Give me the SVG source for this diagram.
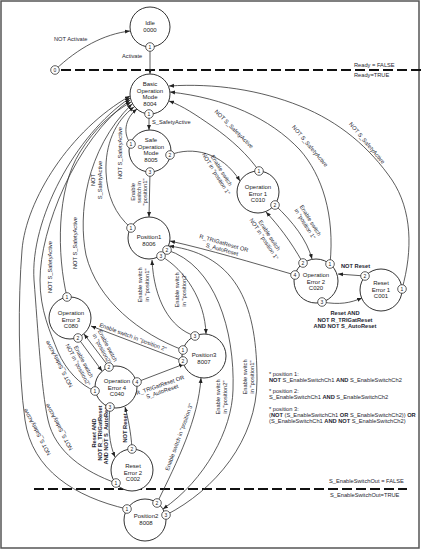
<svg xmlns="http://www.w3.org/2000/svg" width="421" height="550" viewBox="0 0 421 550">
<style>
text{font-family:"Liberation Sans",Arial,sans-serif;fill:#222}
.nt{font-size:6px;text-anchor:middle}
.lb{font-size:5.7px;text-anchor:middle;fill:#1e1e30}
.ls{font-size:5.7px;fill:#1e1e30}
.b{font-weight:bold}
.node{fill:#fff;stroke:#333;stroke-width:1}
.port{fill:#fff;stroke:#333;stroke-width:0.8}
.pt{font-size:5px;text-anchor:middle}
.c{fill:none;stroke:#333;stroke-width:0.8}
.dash{stroke:#111;stroke-width:1.8;stroke-dasharray:10,4;fill:none}
</style>
<defs>
<marker id="ah" viewBox="0 0 10 10" refX="10" refY="5" markerUnits="userSpaceOnUse" markerWidth="5" markerHeight="5" orient="auto"><path d="M0,1 L10,5 L0,9 z" fill="#222"/></marker>
</defs>
<rect x="1" y="1" width="418" height="547" fill="#fff" stroke="#555" stroke-width="1.5"/>
<line class="dash" x1="61" y1="70" x2="421" y2="70"/>
<line class="dash" x1="34" y1="489" x2="407" y2="489"/>
<g id="connectors" class="c" marker-end="url(#ah)">
<path d="M55,70 C78,48 104,34 130,31"/>
<path d="M150,47 L150,74"/>
<path d="M149,114 L149,130"/>
<path d="M131,144 C123,135 124,119 137,109"/>
<path d="M131,228 C115,214 107,196 106,172 C105,145 115,121 134,107"/>
<path d="M183,350 C140,334 97,300 86,255 C78,215 85,150 132,104"/>
<path d="M67,297 C57,255 56,190 80,152 C95,128 112,113 131,102"/>
<path d="M95,391 C80,385 66,370 58,352 C50,332 40,310 40,280 C40,230 75,140 130,100"/>
<path d="M116,483 C85,472 55,452 48,420 C41,388 38,330 34,280 C30,220 75,135 130,98"/>
<path d="M127,509 C75,497 32,470 25,420 C18,370 18,300 22,250 C26,200 70,130 130,96"/>
<path d="M170,155 C192,146 222,152 240,181"/>
<path d="M259,171 C248,155 232,140 212,126 C196,115 183,106 169,101"/>
<path d="M330,264 C335,215 322,175 300,150 C270,118 225,98 170,92"/>
<path d="M402,289 C413,250 412,210 392,180 C370,148 340,122 300,106 C260,90 215,83 169,86"/>
<path d="M150,172 L149,217"/>
<path d="M275,205 C293,222 307,240 312,259"/>
<path d="M303,263 C290,240 278,225 266,212"/>
<path d="M365,276 L338,274"/>
<path d="M322,302 C340,305 350,303 362,298"/>
<path d="M295,275 C250,262 210,250 170,241"/>
<path d="M167,250 C215,265 235,330 233,390 C232,430 205,480 163,509"/>
<path d="M161,256 C185,270 205,300 206,334"/>
<path d="M195,336 C170,328 154,300 152,260"/>
<path d="M166,515 C215,490 257,440 257,380 C257,310 240,255 169,246"/>
<path d="M183,361 L91,326"/>
<path d="M78,338 L102,371"/>
<path d="M109,367 L84,334"/>
<path d="M137,382 L184,364"/>
<path d="M110,407 C108,428 109,443 115,457"/>
<path d="M132,449 C131,432 128,418 125,407"/>
<path d="M157,503 C178,460 198,420 201,378"/>
</g>
<g id="labels">
<text class="ls" x="54" y="41">NOT Activate</text>
<text class="ls" x="122" y="58">Activate</text>
<text class="ls" x="152" y="124">S_SafetyActive</text>
<text class="ls" x="354" y="67">Ready = FALSE</text>
<text class="ls" x="354" y="77">Ready=TRUE</text>
<text class="lb" transform="translate(120,153) rotate(-90)" y="2">NOT S_SafetyActive</text>
<text class="lb" transform="translate(96,180) rotate(-90)"><tspan x="0" y="-1">NOT</tspan><tspan x="0" y="5.5">S_SafetyActive</tspan></text>
<text class="lb" transform="translate(75,243) rotate(-90)" y="2">NOT S_SafetyActive</text>
<text class="lb" transform="translate(50,267) rotate(-90)" y="2">NOT S_SafetyActive</text>
<text class="lb" transform="translate(59,364) rotate(-118)" y="2">NOT S_SafetyActive</text>
<text class="lb" transform="translate(59,427) rotate(-118)" y="2">NOT S_SafetyActive</text>
<text class="lb" transform="translate(37,432) rotate(-118)" y="2">NOT S_SafetyActive</text>
<text class="lb" transform="translate(234,129) rotate(45)" y="2">NOT S_SafetyActive</text>
<text class="lb" transform="translate(310,146) rotate(50)" y="2">NOT S_SafetyActive</text>
<text class="lb" transform="translate(367,143) rotate(50)" y="2">NOT S_SafetyActive</text>
<text class="lb" transform="translate(219,172) rotate(58)"><tspan x="0" y="-1">Enable switch</tspan><tspan x="0" y="5.5">NOT in "position 1"</tspan></text>
<text class="lb" transform="translate(308,222) rotate(58)"><tspan x="0" y="-1">Enable switch</tspan><tspan x="0" y="5.5">in "position 1"</tspan></text>
<text class="lb" transform="translate(267,237) rotate(57)"><tspan x="0" y="-1">Enable switch</tspan><tspan x="0" y="5.5">NOT in "position 1"</tspan></text>
<text class="lb" transform="translate(139,192) rotate(-90)"><tspan x="0" y="-4.5">Enable</tspan><tspan x="0" y="1.8">switch in</tspan><tspan x="0" y="8.1">"position1"</tspan></text>
<text class="lb" transform="translate(223,246) rotate(16)"><tspan x="0" y="-1">R_TRIGatReset OR</tspan><tspan x="0" y="5.5">S_AutoReset</tspan></text>
<text class="ls b" x="341" y="268">NOT Reset</text>
<text class="lb b" x="345"><tspan x="345" y="315">Reset AND</tspan><tspan x="345" y="321.5">NOT R_TRIGatReset</tspan><tspan x="345" y="328">AND NOT S_AutoReset</tspan></text>
<text class="lb" transform="translate(180,290) rotate(-90)"><tspan x="0" y="-1">Enable switch</tspan><tspan x="0" y="5.5">in "position3"</tspan></text>
<text class="lb" transform="translate(143,285) rotate(-90)"><tspan x="0" y="-1">Enable switch</tspan><tspan x="0" y="5.5">in "position1"</tspan></text>
<text class="lb" transform="translate(133,337) rotate(20.5)" y="2">Enable switch in "position 2"</text>
<text class="lb" transform="translate(81,363) rotate(62)"><tspan x="0" y="-1">Enable switch</tspan><tspan x="0" y="5.5">NOT in "position2"</tspan></text>
<text class="lb" transform="translate(105,347) rotate(62)"><tspan x="0" y="-1">Enable switch</tspan><tspan x="0" y="5.5">in "position2"</tspan></text>
<text class="lb" transform="translate(161,388) rotate(-19)"><tspan x="0" y="-1">R_TRIGatReset OR</tspan><tspan x="0" y="5.5">S_AutoReset</tspan></text>
<text class="lb b" transform="translate(100,433) rotate(-90)"><tspan x="0" y="-4.5">Reset AND</tspan><tspan x="0" y="1.8">NOT R_TRIGatReset</tspan><tspan x="0" y="8.1">AND NOT S_AutoReset</tspan></text>
<text class="lb b" transform="translate(125,428) rotate(-90)" y="2">NOT Reset</text>
<text class="lb" transform="translate(221,397) rotate(-90)"><tspan x="0" y="-1">Enable switch</tspan><tspan x="0" y="5.5">in "position2"</tspan></text>
<text class="lb" transform="translate(248,377) rotate(-90)"><tspan x="0" y="-1">Enable switch</tspan><tspan x="0" y="5.5">in "position1"</tspan></text>
<text class="lb" transform="translate(179,437) rotate(-70)" y="2">Enable switch in "position 3"</text>
<text class="ls" x="269" y="375.5">* position 1:</text>
<text class="ls" x="269" y="381.5"><tspan class="b">NOT</tspan> S_EnableSwitchCh1 <tspan class="b">AND</tspan> S_EnableSwitchCh2</text>
<text class="ls" x="269" y="393">* position 2:</text>
<text class="ls" x="269" y="399">S_EnableSwitchCh1 <tspan class="b">AND</tspan> S_EnableSwitchCh2</text>
<text class="ls" x="269" y="410.5">* position 3:</text>
<text class="ls" x="269" y="416.5">(<tspan class="b">NOT</tspan> (S_EnableSwitchCh1 <tspan class="b">OR</tspan> S_EnableSwitchCh2)) <tspan class="b">OR</tspan></text>
<text class="ls" x="269" y="423">(S_EnableSwitchCh1 <tspan class="b">AND NOT</tspan> S_EnableSwitchCh2)</text>
<text class="ls" x="329" y="483">S_EnableSwitchOut = FALSE</text>
<text class="ls" x="330" y="497">S_EnableSwitchOut=TRUE</text>
</g>
<g id="port-ready"><circle class="port" cx="55" cy="70" r="4.3"/><text class="pt" x="55" y="71.8">0</text></g>
<g id="node-idle"><circle class="node" cx="150" cy="27" r="20"/><text class="nt" x="150" y="25">Idle</text><text class="nt" x="150" y="32">0000</text><circle class="port" cx="150" cy="47" r="4.3"/><text class="pt" x="150" y="48.8">1</text></g>
<g id="node-basic"><circle class="node" cx="150" cy="94" r="20"/><text class="nt" x="150" y="86">Basic</text><text class="nt" x="150" y="92.5">Operation</text><text class="nt" x="150" y="99">Mode</text><text class="nt" x="150" y="105.5">8004</text><circle class="port" cx="149" cy="114" r="4.3"/><text class="pt" x="149" y="115.8">1</text></g>
<g id="node-safe"><circle class="node" cx="150" cy="151" r="21"/><text class="nt" x="151" y="142">Safe</text><text class="nt" x="151" y="148.5">Operation</text><text class="nt" x="151" y="155">Mode</text><text class="nt" x="151" y="161.5">8005</text>
<circle class="port" cx="131" cy="144" r="4.3"/><text class="pt" x="131" y="145.8">1</text><circle class="port" cx="170" cy="155" r="4.3"/><text class="pt" x="170" y="156.8">2</text><circle class="port" cx="150" cy="172" r="4.3"/><text class="pt" x="150" y="173.8">3</text></g>
<g id="node-position1"><circle class="node" cx="149" cy="238" r="21"/><text class="nt" x="149" y="239">Position1</text><text class="nt" x="149" y="246">8006</text>
<circle class="port" cx="131" cy="228" r="4.3"/><text class="pt" x="131" y="229.8">1</text><circle class="port" cx="167" cy="250" r="4.3"/><text class="pt" x="167" y="251.8">2</text><circle class="port" cx="161" cy="256" r="4.3"/><text class="pt" x="161" y="257.8">3</text></g>
<g id="node-operr1"><circle class="node" cx="258" cy="192" r="21"/><text class="nt" x="258" y="189">Operation</text><text class="nt" x="258" y="195.5">Error 1</text><text class="nt" x="258" y="202">C010</text>
<circle class="port" cx="259" cy="171" r="4.3"/><text class="pt" x="259" y="172.8">1</text><circle class="port" cx="275" cy="205" r="4.3"/><text class="pt" x="275" y="206.8">2</text></g>
<g id="node-operr2"><circle class="node" cx="316" cy="281" r="22"/><text class="nt" x="316" y="277">Operation</text><text class="nt" x="316" y="283.5">Error 2</text><text class="nt" x="316" y="290">C020</text>
<circle class="port" cx="330" cy="264" r="4.3"/><text class="pt" x="330" y="265.8">1</text><circle class="port" cx="303" cy="263" r="4.3"/><text class="pt" x="303" y="264.8">2</text><circle class="port" cx="322" cy="302" r="4.3"/><text class="pt" x="322" y="303.8">3</text><circle class="port" cx="295" cy="275" r="4.3"/><text class="pt" x="295" y="276.8">4</text></g>
<g id="node-reseterr1"><circle class="node" cx="381" cy="290" r="21"/><text class="nt" x="381" y="285">Reset</text><text class="nt" x="381" y="291.5">Error 1</text><text class="nt" x="381" y="298">C001</text>
<circle class="port" cx="402" cy="289" r="4.3"/><text class="pt" x="402" y="290.8">1</text><circle class="port" cx="365" cy="276" r="4.3"/><text class="pt" x="365" y="277.8">2</text></g>
<g id="node-operr3"><circle class="node" cx="70" cy="318" r="21"/><text class="nt" x="71" y="315">Operation</text><text class="nt" x="71" y="321.5">Error 3</text><text class="nt" x="71" y="328">C080</text>
<circle class="port" cx="67" cy="297" r="4.3"/><text class="pt" x="67" y="298.8">1</text><circle class="port" cx="78" cy="338" r="4.3"/><text class="pt" x="78" y="339.8">2</text></g>
<g id="node-operr4"><circle class="node" cx="116" cy="387" r="21"/><text class="nt" x="117" y="383">Operation</text><text class="nt" x="117" y="389.5">Error 4</text><text class="nt" x="117" y="396">C040</text>
<circle class="port" cx="95" cy="391" r="4.3"/><text class="pt" x="95" y="392.8">1</text><circle class="port" cx="109" cy="367" r="4.3"/><text class="pt" x="109" y="368.8">2</text><circle class="port" cx="110" cy="407" r="4.3"/><text class="pt" x="110" y="408.8">3</text><circle class="port" cx="137" cy="382" r="4.3"/><text class="pt" x="137" y="383.8">4</text></g>
<g id="node-reseterr2"><circle class="node" cx="132" cy="470" r="21"/><text class="nt" x="133" y="468">Reset</text><text class="nt" x="133" y="474.5">Error 2</text><text class="nt" x="133" y="481">C002</text>
<circle class="port" cx="116" cy="483" r="4.3"/><text class="pt" x="116" y="484.8">1</text><circle class="port" cx="132" cy="449" r="4.3"/><text class="pt" x="132" y="450.8">2</text></g>
<g id="node-position3"><circle class="node" cx="204" cy="356" r="22"/><text class="nt" x="204" y="357">Position3</text><text class="nt" x="204" y="364">8007</text>
<circle class="port" cx="183" cy="350" r="4.3"/><text class="pt" x="183" y="351.8">1</text><circle class="port" cx="183" cy="361" r="4.3"/><text class="pt" x="183" y="362.8">2</text><circle class="port" cx="195" cy="336" r="4.3"/><text class="pt" x="195" y="337.8">3</text></g>
<g id="node-position2"><circle class="node" cx="145" cy="520" r="21"/><text class="nt" x="146" y="518">Position2</text><text class="nt" x="146" y="525">8008</text>
<circle class="port" cx="127" cy="509" r="4.3"/><text class="pt" x="127" y="510.8">1</text><circle class="port" cx="157" cy="503" r="4.3"/><text class="pt" x="157" y="504.8">2</text><circle class="port" cx="166" cy="515" r="4.3"/><text class="pt" x="166" y="516.8">3</text></g>
</svg>
